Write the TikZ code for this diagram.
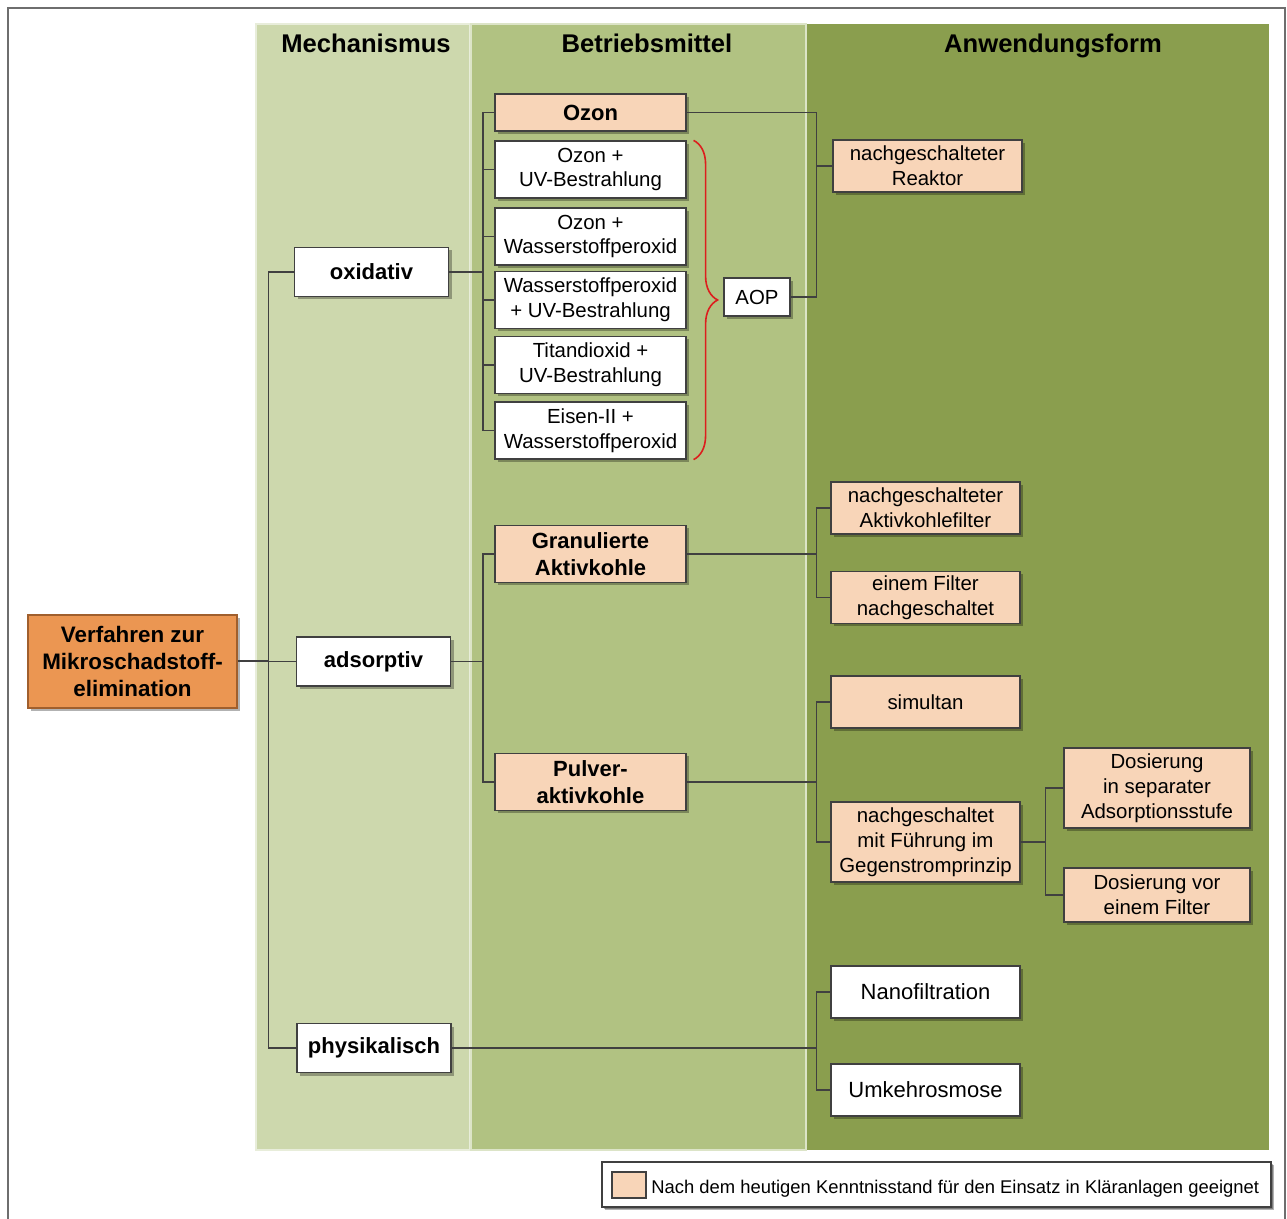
\documentclass[tikz,border=0pt]{standalone}
\usepackage{fontspec}
\setmainfont{Liberation Sans}
\usetikzlibrary{positioning,shadows,decorations.pathreplacing,calc}
\definecolor{bandlight}{RGB}{205,216,173}
\definecolor{bandmid}{RGB}{177,194,130}
\definecolor{banddark}{RGB}{138,158,78}
\definecolor{peach}{RGB}{248,213,184}
\definecolor{rootorange}{RGB}{235,150,82}
\definecolor{rootedge}{RGB}{160,95,45}
\definecolor{linegray}{RGB}{64,64,64}
\definecolor{framegray}{RGB}{110,110,110}
\definecolor{bracered}{RGB}{220,30,30}

\begin{document}
\begin{tikzpicture}[x=0.5pt,y=-0.5pt,
  box/.style={draw=linegray,line width=0.6pt,fill=white,align=center,inner sep=1pt,
    font=\fontsize{10.2}{12.4}\selectfont,
    drop shadow={shadow xshift=1.5pt,shadow yshift=-1.5pt,fill=black,opacity=0.3}},
  mech/.style={box,font=\bfseries\fontsize{11}{13.4}\selectfont,
    minimum width=77pt,minimum height=24.5pt},
  mittel/.style={box,minimum width=95.5pt,minimum height=28.5pt},
  form/.style={box,minimum width=94.5pt,minimum height=26pt},
  good/.style={fill=peach},
  strong/.style={font=\bfseries\fontsize{11}{13.4}\selectfont},
  link/.style={draw=linegray,line width=0.75pt},
  header/.style={anchor=base,font=\bfseries\fontsize{12.8}{15}\selectfont}]
  \useasboundingbox (0,0) rectangle (1287,1219);

  %% Frame and column bands
  \draw[framegray,line width=0.6pt] (8,1219) -- (8,8) -- (1285,8) -- (1285,1219);
  \filldraw[fill=bandlight,draw=white!55!bandlight,line width=0.8pt] (256,24) rectangle (470,1150);
  \filldraw[fill=bandmid,draw=white!55!bandmid,line width=0.8pt] (471,24) rectangle (806,1150);
  \fill[banddark] (807,24) rectangle (1269,1150);

  \node[header] (hmech) at (366,53) {Mechanismus};
  \node[header] (hmittel) at (647,53) {Betriebsmittel};
  \node[header] (hform) at (1053,53) {Anwendungsform};

  %% Root and mechanisms
  \node[box,fill=rootorange,draw=rootedge,font=\bfseries\fontsize{11.2}{13.5}\selectfont,
        minimum width=104.5pt,minimum height=46.5pt]
        (root) at (132.5,661.5) {Verfahren zur\\Mikroschadstoff-\\elimination};
  \node[mech] (oxidativ) at (371.5,272) {oxidativ};
  \node[mech] (adsorptiv) at (373.5,661.5) {adsorptiv};
  \node[mech] (physikalisch) at (374,1048) {physikalisch};

  %% Oxidative agents
  \node[mittel,good,strong,minimum height=18.5pt] (ozon) at (590.5,112.5) {Ozon};
  \node[mittel] (o1) at (590.5,169.5) {Ozon +\\UV-Bestrahlung};
  \node[mittel] (o2) at (590.5,236.5) {Ozon +\\Wasserstoffperoxid};
  \node[mittel] (o3) at (590.5,300) {Wasserstoffperoxid\\+ UV-Bestrahlung};
  \node[mittel] (o4) at (590.5,365) {Titandioxid +\\UV-Bestrahlung};
  \node[mittel] (o5) at (590.5,430.5) {Eisen-II +\\Wasserstoffperoxid};
  \node[box,minimum width=33pt,minimum height=19pt] (aop) at (757,297) {AOP};
  \node[form,good] (reaktor) at (927.5,166) {nachgeschalteter\\Reaktor};

  %% Adsorptive agents
  \node[mittel,good,strong] (gak) at (590.5,554) {Granulierte\\Aktivkohle};
  \node[mittel,good,strong] (pak) at (590.5,782) {Pulver-\\aktivkohle};
  \node[form,good] (akf) at (925.5,508) {nachgeschalteter\\Aktivkohlefilter};
  \node[form,good] (ef) at (925.5,597.5) {einem Filter\\nachgeschaltet};
  \node[form,good] (sim) at (925.5,702) {simultan};
  \node[form,good,minimum height=40pt] (gsp) at (925.5,842) {nachgeschaltet\\mit Führung im\\Gegenstromprinzip};
  \node[form,good,minimum width=93pt,minimum height=40pt] (dsep) at (1157,788) {Dosierung\\in separater\\Adsorptionsstufe};
  \node[form,good,minimum width=93pt,minimum height=27pt] (dvor) at (1157,895) {Dosierung vor\\einem Filter};

  %% Physical processes
  \node[form,font=\fontsize{11}{13.2}\selectfont] (nano) at (925.5,992) {Nanofiltration};
  \node[form,font=\fontsize{11}{13.2}\selectfont] (umk) at (925.5,1090) {Umkehrosmose};

  %% Connectors
  \draw[link,line width=1pt] (root.east) -- ++(15.5pt,0) coordinate (s0);
  \draw[link] (oxidativ.west) -| (s0) |- (physikalisch.west);
  \draw[link] (s0) -- (adsorptiv.west);

  \draw[link] (oxidativ.east) -- ++(17pt,0) coordinate (s1);
  \draw[link] (ozon.west) -| (s1) |- (o5.west);
  \foreach \n in {o1,o2,o3,o4}
    \draw[link] (s1 |- \n.west) -- (\n.west);

  \coordinate (s2) at ([xshift=-8pt]reaktor.west);
  \draw[link] (ozon.east) -| (s2) |- (aop.east);
  \draw[link] (s2) -- (reaktor.west);
  \draw[bracered,line width=0.8pt,decorate,decoration={brace,amplitude=12pt}]
    ([xshift=3.5pt]o1.north east) -- ([xshift=3.5pt]o5.south east);

  \draw[link] (adsorptiv.east) -- ++(16pt,0) coordinate (s3);
  \draw[link] (gak.west) -| (s3) |- (pak.west);

  \draw[link] (gak.east) -- ([xshift=-7pt]gak.east -| akf.west) coordinate (s4);
  \draw[link] (akf.west) -| (s4) |- (ef.west);

  \draw[link] (pak.east) -- ([xshift=-7pt]pak.east -| sim.west) coordinate (s5);
  \draw[link] (sim.west) -| (s5) |- (gsp.west);

  \draw[link] (gsp.east) -- ([xshift=-9pt]gsp.east -| dsep.west) coordinate (s6);
  \draw[link] (dsep.west) -| (s6) |- (dvor.west);

  \draw[link] (physikalisch.east) -- ([xshift=-7pt]physikalisch.east -| nano.west) coordinate (s7);
  \draw[link] (nano.west) -| (s7) |- (umk.west);

  %% Legend
  \node[box,minimum width=334.5pt,minimum height=22.5pt,
        drop shadow={shadow xshift=0.8pt,shadow yshift=-0.8pt,fill=black,opacity=0.3}]
        (legend) at (936.5,1184.5) {};
  \node[draw=linegray,line width=0.6pt,fill=peach,minimum width=17pt,minimum height=13pt,
        inner sep=0pt] (swatch) at (629,1185) {};
  \node[anchor=base west,inner sep=0pt,font=\fontsize{9.2}{11}\selectfont]
        (legendtext) at (651,1193) {Nach dem heutigen Kenntnisstand für den Einsatz in Kläranlagen geeignet};
\end{tikzpicture}
\end{document}
